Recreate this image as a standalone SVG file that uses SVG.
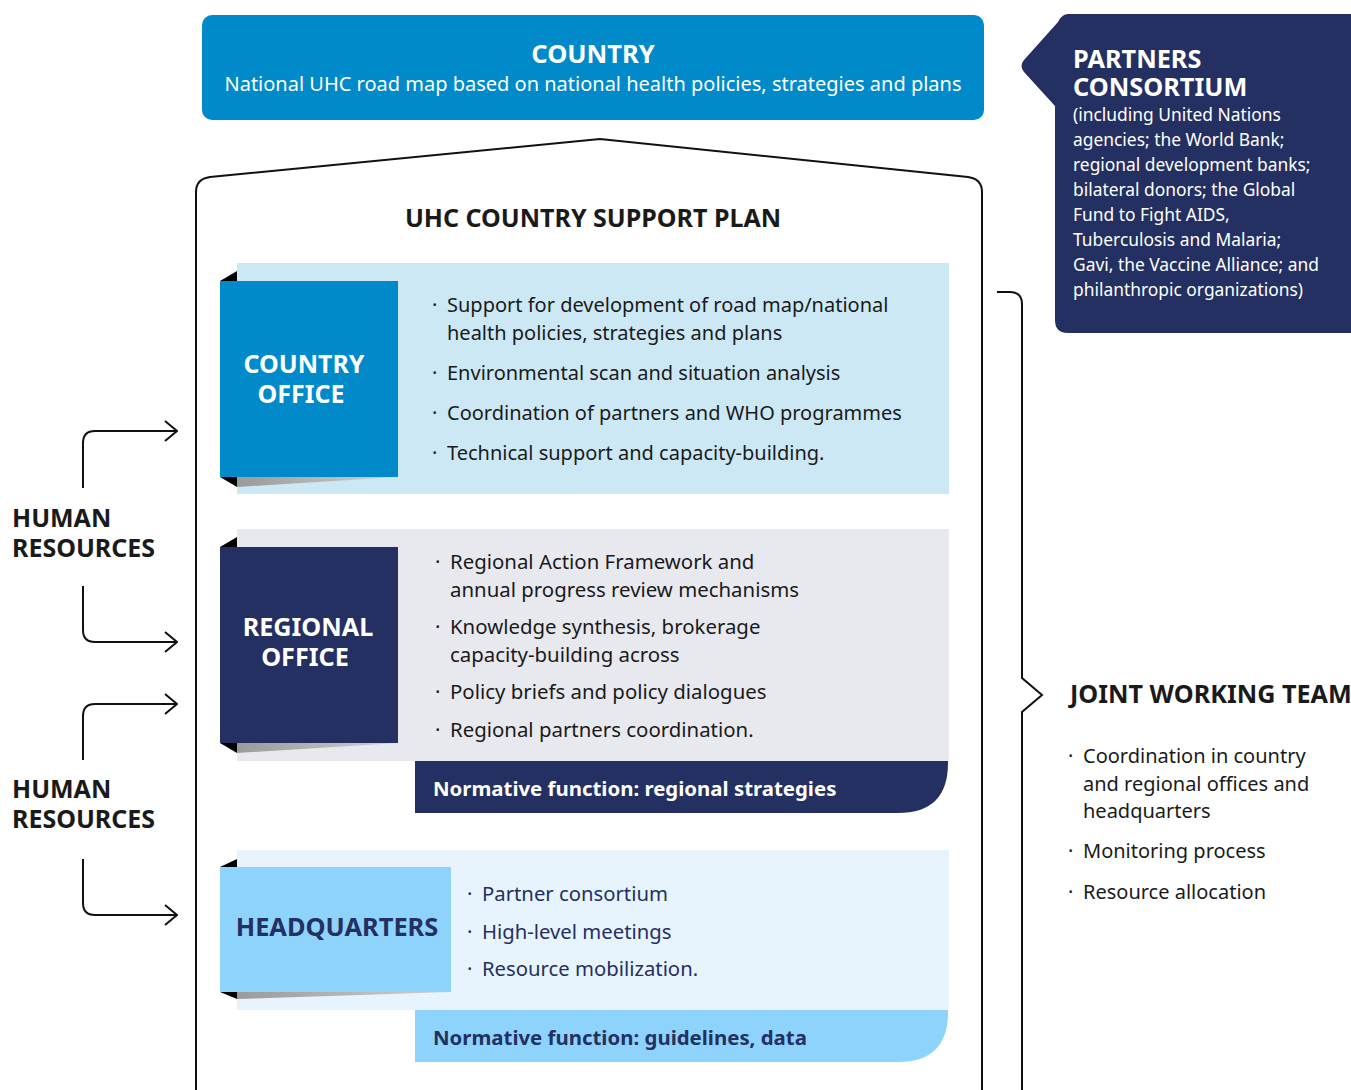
<svg xmlns="http://www.w3.org/2000/svg" width="1351" height="1090" viewBox="0 0 1351 1090">
<defs>
<linearGradient id="sh" x1="0" y1="0" x2="1" y2="0">
<stop offset="0" stop-color="#9a9a9a"/>
<stop offset="1" stop-color="#d0d0d0"/>
</linearGradient>
<marker id="chev" viewBox="0 0 14 22" refX="13" refY="11" markerWidth="14" markerHeight="22" markerUnits="userSpaceOnUse" orient="auto">
<path d="M1,1 L13,11 L1,21" fill="none" stroke="#111" stroke-width="2"/>
</marker>
</defs>
<style>
text{font-family:"Noto Sans","Open Sans","Liberation Sans",sans-serif}
.b{font-weight:700}
.w{fill:#fff}
.n{fill:#243062}
.k{fill:#1a1a1a}
.t20{font-size:20px}
.t17{font-size:17.4px}
.line{fill:none;stroke:#111;stroke-width:2}
</style>

<g id="country">
<rect x="202" y="15" width="782" height="105" rx="10" fill="#008ACA"/>
<text x="593" y="63" text-anchor="middle" class="b w" font-size="25.5">COUNTRY</text>
<text x="593" y="91" text-anchor="middle" class="w t20">National UHC road map based on national health policies, strategies and plans</text>
</g>

<g id="partners">
<path d="M1068,14 H1351 V333 H1068 Q1055,333 1055,320 V106 L1024,72 Q1019,66 1024,60 L1058,22 Q1062,14 1068,14 Z" fill="#243062"/>
<text class="b w" font-size="25.3"><tspan x="1073" y="68">PARTNERS</tspan><tspan x="1073" y="96">CONSORTIUM</tspan></text>
<text class="w t17">
<tspan x="1073" y="121">(including United Nations</tspan>
<tspan x="1073" y="146">agencies; the World Bank;</tspan>
<tspan x="1073" y="171">regional development banks;</tspan>
<tspan x="1073" y="196">bilateral donors; the Global</tspan>
<tspan x="1073" y="221">Fund to Fight AIDS,</tspan>
<tspan x="1073" y="246">Tuberculosis and Malaria;</tspan>
<tspan x="1073" y="271">Gavi, the Vaccine Alliance; and</tspan>
<tspan x="1073" y="296">philanthropic organizations)</tspan>
</text>
</g>

<g id="plan">
<path class="line" d="M196,1092 V192 Q196,179 210,177 L600,139 L968,177 Q982,179 982,192 V1092"/>
<text x="593" y="227" text-anchor="middle" class="b k" font-size="25">UHC COUNTRY SUPPORT PLAN</text>
</g>

<g id="country-office">
<rect x="237" y="263" width="712" height="231" fill="#CCE8F4"/>
<path d="M220,281 L237,271 V281 Z" fill="#000"/>
<path d="M220,477 H237 V487 Z" fill="#000"/>
<path d="M237,477 H398 L237,487 Z" fill="url(#sh)"/>
<rect x="220" y="281" width="178" height="196" fill="#008ACA"/>
<text class="b w" font-size="25" text-anchor="middle"><tspan x="304" y="373">COUNTRY</tspan><tspan x="301" y="403">OFFICE</tspan></text>
<text class="k t20">
<tspan x="432" y="312">·</tspan><tspan x="447" y="312">Support for development of road map/national</tspan>
<tspan x="447" y="340">health policies, strategies and plans</tspan>
<tspan x="432" y="380">·</tspan><tspan x="447" y="380">Environmental scan and situation analysis</tspan>
<tspan x="432" y="420">·</tspan><tspan x="447" y="420">Coordination of partners and WHO programmes</tspan>
<tspan x="432" y="460">·</tspan><tspan x="447" y="460">Technical support and capacity-building.</tspan>
</text>
</g>

<g id="regional-office">
<rect x="237" y="529" width="712" height="232" fill="#E8E9EF"/>
<path d="M220,547 L237,537 V547 Z" fill="#000"/>
<path d="M220,743 H237 V753 Z" fill="#000"/>
<path d="M237,743 H398 L237,753 Z" fill="url(#sh)"/>
<rect x="220" y="547" width="178" height="196" fill="#243062"/>
<text class="b w" font-size="25.2" text-anchor="middle"><tspan x="308" y="636">REGIONAL</tspan><tspan x="305" y="666">OFFICE</tspan></text>
<text class="k" font-size="20.4">
<tspan x="435" y="569">·</tspan><tspan x="450" y="569">Regional Action Framework and</tspan>
<tspan x="450" y="597">annual progress review mechanisms</tspan>
<tspan x="435" y="634">·</tspan><tspan x="450" y="634">Knowledge synthesis, brokerage</tspan>
<tspan x="450" y="662">capacity-building across</tspan>
<tspan x="435" y="699">·</tspan><tspan x="450" y="699">Policy briefs and policy dialogues</tspan>
<tspan x="435" y="737">·</tspan><tspan x="450" y="737">Regional partners coordination.</tspan>
</text>
<path d="M415,761 H948 V763 Q948,813 898,813 H415 Z" fill="#243062"/>
<text x="433" y="796" class="b w" font-size="20.4">Normative function: regional strategies</text>
</g>

<g id="headquarters">
<rect x="237" y="850" width="712" height="160" fill="#E8F4FD"/>
<path d="M220,867 L237,859 V867 Z" fill="#000"/>
<path d="M220,992 H237 V999 Z" fill="#000"/>
<path d="M237,992 H451 L237,999 Z" fill="url(#sh)"/>
<rect x="220" y="867" width="231" height="125" fill="#8DD3FB"/>
<text x="337" y="936" text-anchor="middle" class="b n" font-size="25.4">HEADQUARTERS</text>
<text class="n" font-size="20.3">
<tspan x="467" y="901">·</tspan><tspan x="482" y="901">Partner consortium</tspan>
<tspan x="467" y="939">·</tspan><tspan x="482" y="939">High-level meetings</tspan>
<tspan x="467" y="976">·</tspan><tspan x="482" y="976">Resource mobilization.</tspan>
</text>
<path d="M415,1010 H948 V1012 Q948,1062 898,1062 H415 Z" fill="#8DD3FB"/>
<text x="433" y="1045" class="b n" font-size="20.4">Normative function: guidelines, data</text>
</g>

<g id="human-resources">
<text class="b k" font-size="25"><tspan x="12" y="527">HUMAN</tspan><tspan x="12" y="557">RESOURCES</tspan></text>
<text class="b k" font-size="25"><tspan x="12" y="798">HUMAN</tspan><tspan x="12" y="828">RESOURCES</tspan></text>
</g>

<g id="joint-working-team">
<text x="1070" y="703" class="b k" font-size="25.2">JOINT WORKING TEAM</text>
<text class="k t20">
<tspan x="1068" y="763">·</tspan><tspan x="1083" y="763">Coordination in country</tspan>
<tspan x="1083" y="791">and regional offices and</tspan>
<tspan x="1083" y="818">headquarters</tspan>
<tspan x="1068" y="858">·</tspan><tspan x="1083" y="858">Monitoring process</tspan>
<tspan x="1068" y="899">·</tspan><tspan x="1083" y="899">Resource allocation</tspan>
</text>
</g>

<g id="connectors">
<path class="line" marker-end="url(#chev)" d="M83,488 V443 Q83,431 95,431 H177"/>
<path class="line" marker-end="url(#chev)" d="M83,586 V630 Q83,642 95,642 H177"/>
<path class="line" marker-end="url(#chev)" d="M83,760 V716 Q83,704 95,704 H177"/>
<path class="line" marker-end="url(#chev)" d="M83,859 V903 Q83,915 95,915 H177"/>
<path class="line" d="M997,292 H1010 Q1022,292 1022,304 V678 L1042,695 L1022,712 V1092"/>
</g>
</svg>
